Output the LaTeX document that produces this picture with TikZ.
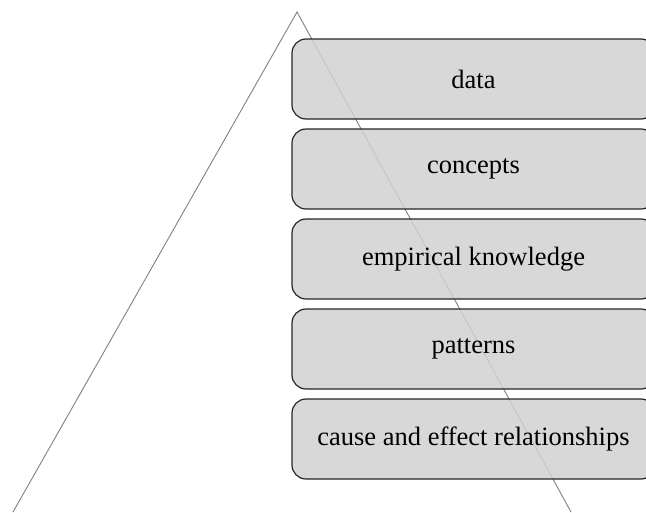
\documentclass[tikz,border=0pt]{standalone}
\usepackage{fontspec}
\setmainfont{Liberation Serif}
\begin{document}
\begin{tikzpicture}[x=1pt,y=-1pt,
  tri/.style={draw=black!50, line width=0.9pt},
  levelbox/.style={draw=black!85, line width=1.2pt, fill=black!18, fill opacity=0.85, text opacity=1,
    rounded corners=14pt, minimum width=363pt, minimum height=80pt, inner sep=0pt,
    font=\fontsize{26.5pt}{30pt}\selectfont}]
\useasboundingbox (0,0) rectangle (646,512);
\clip (0,0) rectangle (646,512);
\coordinate (apex) at (297,12);
\coordinate (bl) at (13,512);
\coordinate (br) at (571,512);
\draw[tri] (bl) -- (apex) -- (br);
\node[levelbox] (n1) at (473.5,79) {data};
\node[levelbox] (n2) at (473.5,169) {concepts};
\node[levelbox] (n3) at (473.5,259) {empirical knowledge};
\node[levelbox] (n4) at (473.5,349) {patterns};
\node[levelbox] (n5) at (473.5,439) {cause and effect relationships};
\end{tikzpicture}
\end{document}
